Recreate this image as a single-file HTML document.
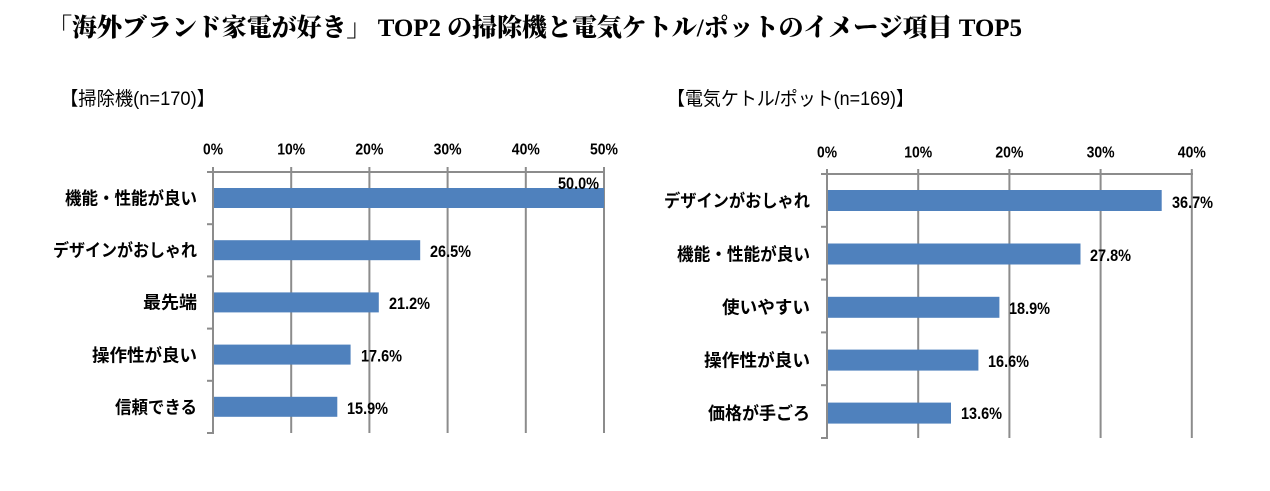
<!DOCTYPE html>
<html>
<head>
<meta charset="utf-8">
<style>
  html,body{margin:0;padding:0;background:#fff;}
  body{width:1270px;height:491px;overflow:hidden;}
  svg{display:block;}
  .title{font-family:"Liberation Serif","Noto Serif CJK SC",serif;font-weight:900;font-size:25px;fill:#000;}
  .sub{font-family:"Liberation Sans","Noto Sans CJK JP",sans-serif;font-size:19px;fill:#000;}
  .cat{font-family:"Liberation Sans","Noto Sans CJK JP",sans-serif;font-weight:bold;font-size:17.5px;fill:#000;}
  .num{font-family:"Liberation Sans",sans-serif;font-weight:bold;font-size:16.5px;fill:#000;}
  .tk{font-family:"Liberation Sans",sans-serif;font-weight:bold;font-size:15.5px;fill:#000;}
  .grid{stroke:#8c8c8c;stroke-width:2;}
  .bar{fill:#4f81bd;}
</style>
</head>
<body>
<svg width="1270" height="491" viewBox="0 0 1270 491" xmlns="http://www.w3.org/2000/svg">
  <rect x="0" y="0" width="1270" height="491" fill="#fff"/>
  <!-- Title -->
  <text class="title" x="47" y="36" textLength="975">「海外ブランド家電が好き」 TOP2 の掃除機と電気ケトル/ポットのイメージ項目 TOP5</text>

  <!-- Subtitles -->
  <text class="sub" x="60" y="105" textLength="155" lengthAdjust="spacingAndGlyphs">【掃除機(n=170)】</text>
  <text class="sub" x="667" y="105" textLength="247" lengthAdjust="spacingAndGlyphs">【電気ケトル/ポット(n=169)】</text>

  <!-- ===== LEFT CHART ===== -->
  <g>
    <line class="grid" x1="291.2" y1="167" x2="291.2" y2="433"/>
    <line class="grid" x1="369.4" y1="167" x2="369.4" y2="433"/>
    <line class="grid" x1="447.6" y1="167" x2="447.6" y2="433"/>
    <line class="grid" x1="525.8" y1="167" x2="525.8" y2="433"/>
    <line class="grid" x1="604" y1="167" x2="604" y2="433"/>
    <line class="grid" x1="207" y1="172" x2="605" y2="172"/>
    <line class="grid" x1="213" y1="167" x2="213" y2="434"/>
    <line class="grid" x1="207" y1="224.2" x2="213" y2="224.2"/>
    <line class="grid" x1="207" y1="276.4" x2="213" y2="276.4"/>
    <line class="grid" x1="207" y1="328.6" x2="213" y2="328.6"/>
    <line class="grid" x1="207" y1="380.8" x2="213" y2="380.8"/>
    <line class="grid" x1="207" y1="433" x2="213" y2="433"/>

    <rect class="bar" x="214" y="188" width="390" height="20"/>
    <rect class="bar" x="214" y="240.2" width="206.2" height="20"/>
    <rect class="bar" x="214" y="292.4" width="164.8" height="20"/>
    <rect class="bar" x="214" y="344.6" width="136.6" height="20"/>
    <rect class="bar" x="214" y="396.8" width="123.3" height="20"/>

    <text class="tk" x="213" y="154.5" text-anchor="middle" textLength="20" lengthAdjust="spacingAndGlyphs">0%</text>
    <text class="tk" x="291.2" y="154.5" text-anchor="middle" textLength="28" lengthAdjust="spacingAndGlyphs">10%</text>
    <text class="tk" x="369.4" y="154.5" text-anchor="middle" textLength="28" lengthAdjust="spacingAndGlyphs">20%</text>
    <text class="tk" x="447.6" y="154.5" text-anchor="middle" textLength="28" lengthAdjust="spacingAndGlyphs">30%</text>
    <text class="tk" x="525.8" y="154.5" text-anchor="middle" textLength="28" lengthAdjust="spacingAndGlyphs">40%</text>
    <text class="tk" x="604" y="154.5" text-anchor="middle" textLength="28" lengthAdjust="spacingAndGlyphs">50%</text>

    <text class="cat" x="197" y="204.5" text-anchor="end" textLength="132" lengthAdjust="spacingAndGlyphs">機能・性能が良い</text>
    <text class="cat" x="197" y="256.5" text-anchor="end" textLength="144" lengthAdjust="spacingAndGlyphs">デザインがおしゃれ</text>
    <text class="cat" x="197" y="308.5" text-anchor="end" textLength="54" lengthAdjust="spacingAndGlyphs">最先端</text>
    <text class="cat" x="197" y="361.5" text-anchor="end" textLength="105" lengthAdjust="spacingAndGlyphs">操作性が良い</text>
    <text class="cat" x="197" y="413.5" text-anchor="end" textLength="82" lengthAdjust="spacingAndGlyphs">信頼できる</text>

    <text class="num" x="599" y="188.8" text-anchor="end" textLength="41" lengthAdjust="spacingAndGlyphs">50.0%</text>
    <text class="num" x="430" y="257" textLength="41" lengthAdjust="spacingAndGlyphs">26.5%</text>
    <text class="num" x="389" y="309" textLength="41" lengthAdjust="spacingAndGlyphs">21.2%</text>
    <text class="num" x="361" y="361.5" textLength="41" lengthAdjust="spacingAndGlyphs">17.6%</text>
    <text class="num" x="347" y="414" textLength="41" lengthAdjust="spacingAndGlyphs">15.9%</text>
  </g>

  <!-- ===== RIGHT CHART ===== -->
  <g>
    <line class="grid" x1="918.2" y1="169" x2="918.2" y2="438"/>
    <line class="grid" x1="1009.4" y1="169" x2="1009.4" y2="438"/>
    <line class="grid" x1="1100.6" y1="169" x2="1100.6" y2="438"/>
    <line class="grid" x1="1191.8" y1="169" x2="1191.8" y2="438"/>
    <line class="grid" x1="821" y1="174" x2="1193" y2="174"/>
    <line class="grid" x1="827" y1="169" x2="827" y2="439"/>
    <line class="grid" x1="821" y1="226.8" x2="827" y2="226.8"/>
    <line class="grid" x1="821" y1="279.6" x2="827" y2="279.6"/>
    <line class="grid" x1="821" y1="332.4" x2="827" y2="332.4"/>
    <line class="grid" x1="821" y1="385.2" x2="827" y2="385.2"/>
    <line class="grid" x1="821" y1="438" x2="827" y2="438"/>

    <rect class="bar" x="828" y="190" width="333.7" height="21"/>
    <rect class="bar" x="828" y="243.5" width="252.5" height="21"/>
    <rect class="bar" x="828" y="296.8" width="171.4" height="21"/>
    <rect class="bar" x="828" y="349.6" width="150.4" height="21"/>
    <rect class="bar" x="828" y="402.6" width="123" height="21"/>

    <text class="tk" x="827" y="157.5" text-anchor="middle" textLength="20" lengthAdjust="spacingAndGlyphs">0%</text>
    <text class="tk" x="918.2" y="157.5" text-anchor="middle" textLength="28" lengthAdjust="spacingAndGlyphs">10%</text>
    <text class="tk" x="1009.4" y="157.5" text-anchor="middle" textLength="28" lengthAdjust="spacingAndGlyphs">20%</text>
    <text class="tk" x="1100.6" y="157.5" text-anchor="middle" textLength="28" lengthAdjust="spacingAndGlyphs">30%</text>
    <text class="tk" x="1191.8" y="157.5" text-anchor="middle" textLength="28" lengthAdjust="spacingAndGlyphs">40%</text>

    <text class="cat" x="810" y="207" text-anchor="end" textLength="146" lengthAdjust="spacingAndGlyphs">デザインがおしゃれ</text>
    <text class="cat" x="810" y="260.5" text-anchor="end" textLength="133" lengthAdjust="spacingAndGlyphs">機能・性能が良い</text>
    <text class="cat" x="810" y="313.5" text-anchor="end" textLength="88" lengthAdjust="spacingAndGlyphs">使いやすい</text>
    <text class="cat" x="810" y="366.5" text-anchor="end" textLength="106" lengthAdjust="spacingAndGlyphs">操作性が良い</text>
    <text class="cat" x="810" y="419.5" text-anchor="end" textLength="102" lengthAdjust="spacingAndGlyphs">価格が手ごろ</text>

    <text class="num" x="1172" y="208" textLength="41" lengthAdjust="spacingAndGlyphs">36.7%</text>
    <text class="num" x="1090" y="261" textLength="41" lengthAdjust="spacingAndGlyphs">27.8%</text>
    <text class="num" x="1009" y="314" textLength="41" lengthAdjust="spacingAndGlyphs">18.9%</text>
    <text class="num" x="988" y="367" textLength="41" lengthAdjust="spacingAndGlyphs">16.6%</text>
    <text class="num" x="961" y="419" textLength="41" lengthAdjust="spacingAndGlyphs">13.6%</text>
  </g>
</svg>
</body>
</html>
